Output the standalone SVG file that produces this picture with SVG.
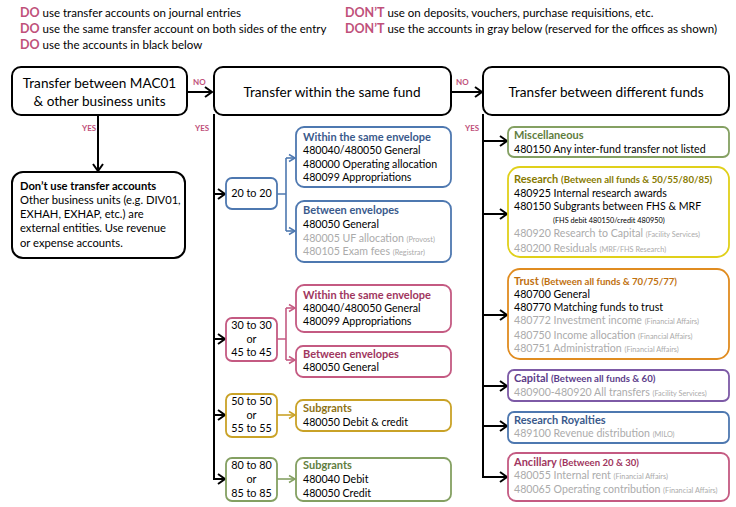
<svg xmlns="http://www.w3.org/2000/svg" width="736" height="507" viewBox="0 0 736 507">
<defs>
<style>
text{font-family:Lato,"Liberation Sans",sans-serif;fill:#000;}
.hd{font-size:11.5px;}
.do{fill:#c0507a;font-weight:bold;font-size:12.5px;}
.lbl{fill:#c0507a;font-weight:bold;font-size:8px;}
.main{fill:#fff;stroke:#000;stroke-width:2;}
.mt{font-size:13.6px;text-anchor:middle;}
.sb{fill:#fff;stroke-width:1.8;}
.t{font-size:10.6px;}
.b2{font-size:11.2px;}
.ti{font-size:11px;font-weight:bold;}
.ts{font-size:9.6px;font-weight:bold;}
.g{fill:#ababab;}
.sm{font-size:7.3px;}
.c{text-anchor:middle;font-size:10.8px;}
.blk{stroke:#000;stroke-width:2;fill:none;}
.thin{stroke-width:1.6;fill:none;}
.blue{stroke:#4e78b0;}
.pink{stroke:#c45a82;}
.gold{stroke:#c9a227;}
.green{stroke:#84a062;}
.yellow{stroke:#e0d01a;}
.orange{stroke:#e08c20;}
.purple{stroke:#7d5aa6;}
.tblue{fill:#3a5a8c;}
.tpink{fill:#a0365e;}
.tgold{fill:#8e7214;}
.tgreen{fill:#5f7d3e;}
.tyellow{fill:#877a00;}
.torange{fill:#c0700f;}
.tpurple{fill:#5c3d8a;}
</style>
<marker id="ab" markerUnits="userSpaceOnUse" markerWidth="12" markerHeight="12" refX="9" refY="6" orient="auto"><path d="M2,1 L9,6 L2,11" fill="none" stroke="#000" stroke-width="2"/></marker>
<marker id="mblue" markerUnits="userSpaceOnUse" markerWidth="10" markerHeight="10" refX="8" refY="5" orient="auto"><path d="M2,1.5 L8,5 L2,8.5" fill="none" stroke="#4e78b0" stroke-width="1.5"/></marker>
<marker id="mpink" markerUnits="userSpaceOnUse" markerWidth="10" markerHeight="10" refX="8" refY="5" orient="auto"><path d="M2,1.5 L8,5 L2,8.5" fill="none" stroke="#c45a82" stroke-width="1.5"/></marker>
<marker id="mgold" markerUnits="userSpaceOnUse" markerWidth="10" markerHeight="10" refX="8" refY="5" orient="auto"><path d="M2,1.5 L8,5 L2,8.5" fill="none" stroke="#c9a227" stroke-width="1.5"/></marker>
<marker id="mgreen" markerUnits="userSpaceOnUse" markerWidth="10" markerHeight="10" refX="8" refY="5" orient="auto"><path d="M2,1.5 L8,5 L2,8.5" fill="none" stroke="#84a062" stroke-width="1.5"/></marker>
</defs>
<rect width="736" height="507" fill="#fff"/>

<g id="header">
<text class="hd" x="20" y="17"><tspan class="do">DO</tspan> use transfer accounts on journal entries</text>
<text class="hd" x="20" y="33"><tspan class="do">DO</tspan> use the same transfer account on both sides of the entry</text>
<text class="hd" x="20" y="49"><tspan class="do">DO</tspan> use the accounts in black below</text>
<text class="hd" x="345" y="17"><tspan class="do">DON’T</tspan> use on deposits, vouchers, purchase requisitions, etc.</text>
<text class="hd" x="345" y="33"><tspan class="do">DON’T</tspan> use the accounts in gray below (reserved for the offices as shown)</text>
</g>

<g id="connectors">
<line class="blk" x1="187" y1="92" x2="212" y2="92" marker-end="url(#ab)"/>
<line class="blk" x1="451" y1="92" x2="482" y2="92" marker-end="url(#ab)"/>
<line class="blk" x1="98" y1="115" x2="98" y2="171" marker-end="url(#ab)"/>
<line class="blk" x1="214" y1="114" x2="214" y2="480"/>
<line class="blk" x1="483" y1="114" x2="483" y2="478"/>
<line class="blk" x1="214" y1="194" x2="225" y2="194" marker-end="url(#ab)"/>
<line class="blk" x1="214" y1="339" x2="225" y2="339" marker-end="url(#ab)"/>
<line class="blk" x1="214" y1="415" x2="225" y2="415" marker-end="url(#ab)"/>
<line class="blk" x1="213" y1="479" x2="225" y2="479" marker-end="url(#ab)"/>
<line class="blk" x1="483" y1="141" x2="507" y2="141" marker-end="url(#ab)"/>
<line class="blk" x1="483" y1="214" x2="507" y2="214" marker-end="url(#ab)"/>
<line class="blk" x1="483" y1="315" x2="507" y2="315" marker-end="url(#ab)"/>
<line class="blk" x1="483" y1="386" x2="507" y2="386" marker-end="url(#ab)"/>
<line class="blk" x1="483" y1="426" x2="507" y2="426" marker-end="url(#ab)"/>
<line class="blk" x1="482" y1="477" x2="507" y2="477" marker-end="url(#ab)"/>
<path class="thin blue" d="M277,194 H286 M286,158 V231"/>
<path class="thin blue" d="M286,158 H295" marker-end="url(#mblue)"/>
<path class="thin blue" d="M286,231 H295" marker-end="url(#mblue)"/>
<path class="thin pink" d="M277,339 H286 M286,308 V360"/>
<path class="thin pink" d="M286,308 H295" marker-end="url(#mpink)"/>
<path class="thin pink" d="M286,360 H295" marker-end="url(#mpink)"/>
<path class="thin gold" d="M277,415 H295" marker-end="url(#mgold)"/>
<path class="thin green" d="M277,479 H295" marker-end="url(#mgreen)"/>
<text class="lbl" x="193" y="85">NO</text>
<text class="lbl" x="456" y="85">NO</text>
<text class="lbl" x="82" y="131">YES</text>
<text class="lbl" x="195" y="131">YES</text>
<text class="lbl" x="465" y="131">YES</text>
</g>

<g id="mac01">
<rect class="main" x="12" y="67" width="175" height="48" rx="9"/>
<text class="mt" x="99.5" y="88">Transfer between MAC01</text>
<text class="mt" x="99.5" y="106">&amp; other business units</text>
</g>

<g id="dont-use">
<rect class="main" x="12" y="172" width="173" height="86" rx="11"/>
<text class="b2" x="20" y="190" font-weight="bold">Don’t use transfer accounts</text>
<text class="b2" x="20" y="204">Other business units (e.g. DIV01,</text>
<text class="b2" x="20" y="218">EXHAH, EXHAP, etc.) are</text>
<text class="b2" x="20" y="232">external entities.  Use revenue</text>
<text class="b2" x="20" y="247">or expense accounts.</text>
</g>

<g id="same-fund">
<rect class="main" x="214" y="67" width="237" height="48" rx="9"/>
<text class="mt" x="332" y="97">Transfer within the same fund</text>
</g>

<g id="diff-funds">
<rect class="main" x="483" y="67" width="246" height="48" rx="9"/>
<text class="mt" x="606" y="97">Transfer between different funds</text>
</g>

<g id="f20">
<rect class="sb blue" x="226" y="178" width="51" height="31" rx="6"/>
<text class="c" x="251.5" y="197">20 to 20</text>
</g>
<g id="f20-within">
<rect class="sb blue" x="296" y="127" width="155" height="60" rx="8"/>
<text class="ti tblue" x="303" y="141">Within the same envelope</text>
<text class="t" x="303" y="154">480040/480050 General</text>
<text class="t" x="303" y="168">480000 Operating allocation</text>
<text class="t" x="303" y="181">480099 Appropriations</text>
</g>
<g id="f20-between">
<rect class="sb blue" x="296" y="201" width="155" height="61" rx="8"/>
<text class="ti tblue" x="303" y="214">Between envelopes</text>
<text class="t" x="303" y="228">480050 General</text>
<text class="t g" x="303" y="242">480005 UF allocation <tspan class="sm">(Provost)</tspan></text>
<text class="t g" x="303" y="255">480105 Exam fees <tspan class="sm">(Registrar)</tspan></text>
</g>

<g id="f30">
<rect class="sb pink" x="226" y="318" width="51" height="43" rx="6"/>
<text class="c" x="251.5" y="329">30 to 30</text>
<text class="c" x="251.5" y="343">or</text>
<text class="c" x="251.5" y="356">45 to 45</text>
</g>
<g id="f30-within">
<rect class="sb pink" x="296" y="285" width="155" height="47" rx="8"/>
<text class="ti tpink" x="303" y="299">Within the same envelope</text>
<text class="t" x="303" y="312">480040/480050 General</text>
<text class="t" x="303" y="325">480099 Appropriations</text>
</g>
<g id="f30-between">
<rect class="sb pink" x="296" y="346" width="155" height="31" rx="7"/>
<text class="ti tpink" x="303" y="358">Between envelopes</text>
<text class="t" x="303" y="371">480050 General</text>
</g>

<g id="f50">
<rect class="sb gold" x="226" y="394" width="51" height="43" rx="6"/>
<text class="c" x="251.5" y="405">50 to 50</text>
<text class="c" x="251.5" y="419">or</text>
<text class="c" x="251.5" y="432">55 to 55</text>
</g>
<g id="f50-subgrants">
<rect class="sb gold" x="296" y="400" width="155" height="31" rx="7"/>
<text class="ti tgold" x="303" y="412">Subgrants</text>
<text class="t" x="303" y="426">480050 Debit &amp; credit</text>
</g>

<g id="f80">
<rect class="sb green" x="226" y="458" width="51" height="43" rx="6"/>
<text class="c" x="251.5" y="469">80 to 80</text>
<text class="c" x="251.5" y="483">or</text>
<text class="c" x="251.5" y="497">85 to 85</text>
</g>
<g id="f80-subgrants">
<rect class="sb green" x="296" y="458" width="155" height="43" rx="7"/>
<text class="ti tgreen" x="303" y="469">Subgrants</text>
<text class="t" x="303" y="483">480040 Debit</text>
<text class="t" x="303" y="497">480050 Credit</text>
</g>

<g id="misc">
<rect class="sb green" x="508" y="127" width="221" height="30" rx="6"/>
<text class="ti tgreen" x="514" y="139">Miscellaneous</text>
<text class="t" x="514" y="153">480150 Any inter-fund transfer not listed</text>
</g>

<g id="research">
<rect class="sb yellow" x="508" y="167" width="221" height="90" rx="12" stroke-width="2.2"/>
<text class="ti tyellow" x="514" y="183">Research <tspan class="ts">(Between all funds &amp; 50/55/80/85)</tspan></text>
<text class="t" x="514" y="197">480925 Internal research awards</text>
<text class="t" x="514" y="210">480150 Subgrants between FHS &amp; MRF</text>
<text class="sm" x="553" y="223">(FHS debit 480150/credit 480950)</text>
<text class="t g" x="514" y="237">480920 Research to Capital <tspan class="sm">(Facility Services)</tspan></text>
<text class="t g" x="514" y="252">480200 Residuals <tspan class="sm">(MRF/FHS Research)</tspan></text>
</g>

<g id="trust">
<rect class="sb orange" x="508" y="269" width="221" height="90" rx="12" stroke-width="2.2"/>
<text class="ti torange" x="514" y="285">Trust <tspan class="ts">(Between all funds &amp; 70/75/77)</tspan></text>
<text class="t" x="514" y="298">480700 General</text>
<text class="t" x="514" y="311">480770 Matching funds to trust</text>
<text class="t g" x="514" y="324">480772 Investment income <tspan class="sm">(Financial Affairs)</tspan></text>
<text class="t g" x="514" y="339">480750 Income allocation <tspan class="sm">(Financial Affairs)</tspan></text>
<text class="t g" x="514" y="352">480751 Administration <tspan class="sm">(Financial Affairs)</tspan></text>
</g>

<g id="capital">
<rect class="sb purple" x="508" y="370" width="221" height="31" rx="6"/>
<text class="ti tpurple" x="514" y="382">Capital <tspan class="ts">(Between all funds &amp; 60)</tspan></text>
<text class="t g" x="514" y="396">480900-480920 All transfers <tspan class="sm">(Facility Services)</tspan></text>
</g>

<g id="royalties">
<rect class="sb blue" x="508" y="412" width="221" height="31" rx="6"/>
<text class="ti tblue" x="514" y="424">Research Royalties</text>
<text class="t g" x="514" y="437">489100 Revenue distribution <tspan class="sm">(MILO)</tspan></text>
</g>

<g id="ancillary">
<rect class="sb pink" x="508" y="453" width="221" height="48" rx="8"/>
<text class="ti tpink" x="514" y="466">Ancillary <tspan class="ts">(Between 20 &amp; 30)</tspan></text>
<text class="t g" x="514" y="479">480055 Internal rent <tspan class="sm">(Financial Affairs)</tspan></text>
<text class="t g" x="514" y="493">480065 Operating contribution <tspan class="sm">(Financial Affairs)</tspan></text>
</g>
</svg>
